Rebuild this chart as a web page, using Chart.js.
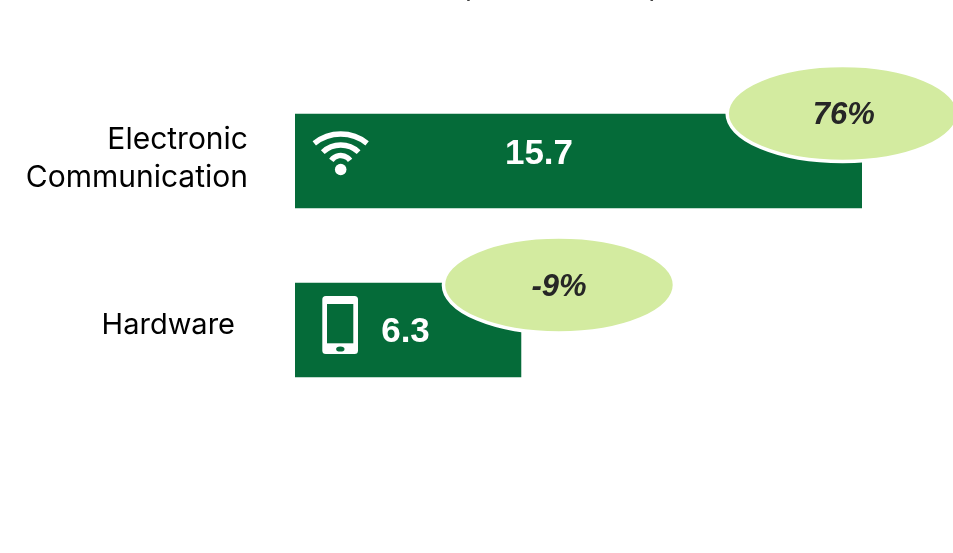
<!DOCTYPE html>
<html>
<head>
<meta charset="utf-8">
<style>
  html, body { margin: 0; padding: 0; background: #fff; }
  #chart { display: block; }
</style>
<script src="https://cdn.jsdelivr.net/npm/chart.js@4"></script>
</head>
<body>
<canvas id="chart" width="953" height="553"></canvas>
<script>
const categories = ['Electronic Communication', 'Hardware'];
const revenue = [15.7, 6.26];
const changeLabels = ['76%', '-9%'];

const GREEN = '#056B39';
const LIGHT = '#D3EBA0';
const DARK = '#262626';
const labelFont = '30px Inter, "Noto Sans", sans-serif';

// where the bubbles, value text and icons sit, relative to each bar
const bubbleOffset = [{ x: -19, y: -47.5 }, { x: 38, y: -45 }];
const valueCentre = [{ x: 244, y: -6.5 }, { x: 110.5, y: 2.5 }];

function drawWifi(ctx, bar) {
  const cx = bar.base + 45.7;
  const y = bar.y;
  ctx.strokeStyle = '#fff';
  ctx.fillStyle = '#fff';
  ctx.lineWidth = 5.4;
  [[15, 42, 0.68], [10, 26, 0.76], [6, 11.5, 0.95]].forEach(([dy, r, a]) => {
    ctx.beginPath();
    ctx.arc(cx, y + dy, r, -Math.PI / 2 - a, -Math.PI / 2 + a);
    ctx.stroke();
  });
  ctx.beginPath();
  ctx.arc(cx, y + 8.5, 5.8, 0, Math.PI * 2);
  ctx.fill();
}

function drawPhone(ctx, bar) {
  const x = bar.base + 27.3;
  const y = bar.y - 34;
  ctx.fillStyle = '#fff';
  ctx.beginPath();
  ctx.roundRect(x, y, 35.7, 58, 3.5);
  ctx.fill();
  ctx.fillStyle = GREEN;
  ctx.fillRect(x + 4.7, y + 8, 26.3, 39.3);
  ctx.beginPath();
  ctx.ellipse(x + 18, y + 53, 4.2, 2.6, 0, 0, Math.PI * 2);
  ctx.fill();
}

const icons = [drawWifi, drawPhone];

const overlay = {
  id: 'overlay',
  afterDatasetsDraw(chart) {
    const { ctx } = chart;
    const bars = chart.getDatasetMeta(0).data;
    const yScale = chart.scales.y;
    ctx.save();

    // category labels
    ctx.fillStyle = '#000';
    ctx.font = labelFont;
    ctx.textAlign = 'right';
    ctx.textBaseline = 'middle';
    const y0 = yScale.getPixelForValue(0);
    ctx.fillText('Electronic', 248, y0 - 21);
    ctx.fillText('Communication', 248, y0 + 17);
    ctx.font = '29px Inter, "Noto Sans", sans-serif';
    ctx.fillText(categories[1], 235, yScale.getPixelForValue(1) - 5);

    bars.forEach((bar, i) => {
      icons[i](ctx, bar);

      ctx.fillStyle = '#fff';
      ctx.font = 'bold 35px "Liberation Sans", Arial, sans-serif';
      ctx.textAlign = 'center';
      ctx.textBaseline = 'middle';
      ctx.fillText(revenue[i].toFixed(1), bar.base + valueCentre[i].x, bar.y + valueCentre[i].y);

      const bx = bar.x + bubbleOffset[i].x;
      const by = bar.y + bubbleOffset[i].y;
      ctx.beginPath();
      ctx.ellipse(bx, by, 115.5, 48, 0, 0, Math.PI * 2);
      ctx.fillStyle = LIGHT;
      ctx.fill();
      ctx.lineWidth = 3.5;
      ctx.strokeStyle = '#fff';
      ctx.stroke();

      ctx.fillStyle = DARK;
      ctx.font = 'italic bold 31px "Liberation Sans", Arial, sans-serif';
      ctx.fillText(changeLabels[i], bx + (i === 0 ? 1 : 0), by + 2);
    });

    // title sits above the page, only the bottoms of its brackets show
    ctx.fillStyle = '#404040';
    ctx.font = '28px Inter, "Noto Sans", sans-serif';
    ctx.textBaseline = 'alphabetic';
    ctx.fillText('(', 466, -3);
    ctx.fillText(')', 654, -3);
    ctx.restore();
  }
};

new Chart(document.getElementById('chart'), {
  type: 'bar',
  data: {
    labels: categories,
    datasets: [{
      data: revenue,
      backgroundColor: GREEN,
      barThickness: 94
    }]
  },
  options: {
    indexAxis: 'y',
    responsive: false,
    animation: false,
    layout: { padding: { left: 295, top: 76.5, right: 80.5, bottom: 138.5 } },
    plugins: { legend: { display: false }, tooltip: { enabled: false } },
    scales: {
      x: { display: false, min: 0, max: 16 },
      y: { display: false }
    }
  },
  plugins: [overlay]
});
</script>
</body>
</html>
